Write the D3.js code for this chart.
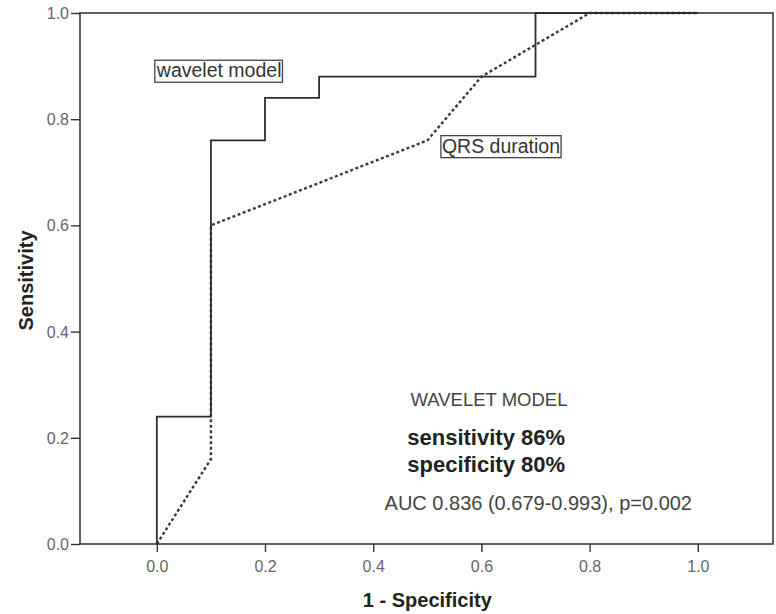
<!DOCTYPE html>
<html>
<head>
<meta charset="utf-8">
<script src="https://cdn.jsdelivr.net/npm/d3@7/dist/d3.min.js"></script>
<style>
  html, body { margin: 0; padding: 0; background: #fff; }
  svg { display: block; font-family: Arial, "Liberation Sans", sans-serif; }
</style>
</head>
<body>
<svg id="chart" width="776" height="614"></svg>
<script>
// ROC curves: false positive rate (1 - specificity) vs sensitivity
const waveletFpr  = [0, 0,    0.1,  0.1,  0.2,  0.2,  0.3,  0.3,  0.7,  0.7, 1.0];
const waveletSens = [0, 0.24, 0.24, 0.76, 0.76, 0.84, 0.84, 0.88, 0.88, 1.0, 1.0];

const qrsFpr  = [0, 0.1,  0.1, 0.5,  0.6,  0.8, 1.0];
const qrsSens = [0, 0.16, 0.6, 0.76, 0.88, 1.0, 1.0];

const xTicks = [0, 0.2, 0.4, 0.6, 0.8, 1.0];
const yTicks = [0, 0.2, 0.4, 0.6, 0.8, 1.0];

const curveLabels = [
  { text: "wavelet model", fpr: 0.0,   sens: 0.879 },
  { text: "QRS duration",  fpr: 0.527, sens: 0.737 }
];

const noteLines = [
  { text: "WAVELET MODEL", size: 18.5, weight: "normal", fpr: 0.469, dy: 0 },
  { text: "sensitivity 86%", size: 22, weight: "bold", fpr: 0.463, dy: 39 },
  { text: "specificity 80%", size: 22, weight: "bold", fpr: 0.463, dy: 66 },
  { text: "AUC 0.836 (0.679-0.993), p=0.002", size: 20, weight: "normal", fpr: 0.421, dy: 104 }
];

const svg = d3.select("#chart");
const plot = { left: 80, right: 773, top: 13, bottom: 544 };

const x = d3.scaleLinear().domain([-0.142, 1.139]).range([plot.left, plot.right]);
const y = d3.scaleLinear().domain([0, 1]).range([plot.bottom, plot.top]);

// frame
svg.append("rect")
  .attr("x", plot.left).attr("y", plot.top)
  .attr("width", plot.right - plot.left).attr("height", plot.bottom - plot.top)
  .attr("fill", "none").attr("stroke", "#3a3a3a").attr("stroke-width", 1.6);

// axes
const xAxis = d3.axisBottom(x).tickValues(xTicks).tickFormat(d3.format(".1f")).tickSize(8).tickSizeOuter(0);
const yAxis = d3.axisLeft(y).tickValues(yTicks).tickFormat(d3.format(".1f")).tickSize(9).tickSizeOuter(0);

const gx = svg.append("g").attr("transform", `translate(0,${plot.bottom})`).call(xAxis);
const gy = svg.append("g").attr("transform", `translate(${plot.left},0)`).call(yAxis);

[gx, gy].forEach(g => {
  g.select(".domain").remove();
  g.selectAll(".tick line").attr("stroke", "#333").attr("stroke-width", 1.4);
  g.selectAll(".tick text")
    .attr("fill", "#666")
    .style("font-size", "16px")
    .style("font-family", "Arial, 'Liberation Sans', sans-serif");
});
gx.selectAll(".tick text").attr("dy", "1.05em");
gy.selectAll(".tick text").attr("x", -11).attr("dy", "0.34em");

// axis titles
svg.append("text")
  .attr("x", x(0.5)).attr("y", 607)
  .attr("text-anchor", "middle")
  .attr("font-weight", "bold").attr("font-size", 20).attr("fill", "#222")
  .text("1 - Specificity");

svg.append("text")
  .attr("transform", `translate(33,${y(0.5) + 2}) rotate(-90)`)
  .attr("text-anchor", "middle")
  .attr("font-weight", "bold").attr("font-size", 20).attr("fill", "#222")
  .text("Sensitivity");

// curves
const line = d3.line().x(d => x(d[0])).y(d => y(d[1]));

svg.append("path")
  .datum(d3.zip(qrsFpr, qrsSens))
  .attr("d", line)
  .attr("fill", "none")
  .attr("stroke", "#3a3a3a")
  .attr("stroke-width", 2.4)
  .attr("stroke-dasharray", "3,2.5");

svg.append("path")
  .datum(d3.zip(waveletFpr, waveletSens))
  .attr("d", line)
  .attr("fill", "none")
  .attr("stroke", "#2e2e2e")
  .attr("stroke-width", 1.8);

// boxed curve labels
curveLabels.forEach(l => {
  const g = svg.append("g");
  const t = g.append("text")
    .attr("x", x(l.fpr)).attr("y", y(l.sens))
    .attr("font-size", 19.5).attr("fill", "#333")
    .text(l.text);
  const bb = t.node().getBBox();
  g.insert("rect", "text")
    .attr("x", bb.x - 1).attr("y", bb.y + 1)
    .attr("width", bb.width + 2).attr("height", bb.height)
    .attr("fill", "#fff").attr("stroke", "#444").attr("stroke-width", 1.3);
});

// statistics note
const noteY = y(0.26);
noteLines.forEach(n => {
  svg.append("text")
    .attr("x", x(n.fpr)).attr("y", noteY + n.dy)
    .attr("text-anchor", "start")
    .attr("font-size", n.size).attr("font-weight", n.weight)
    .attr("fill", n.weight === "bold" ? "#222" : "#444")
    .text(n.text);
});
</script>
</body>
</html>
